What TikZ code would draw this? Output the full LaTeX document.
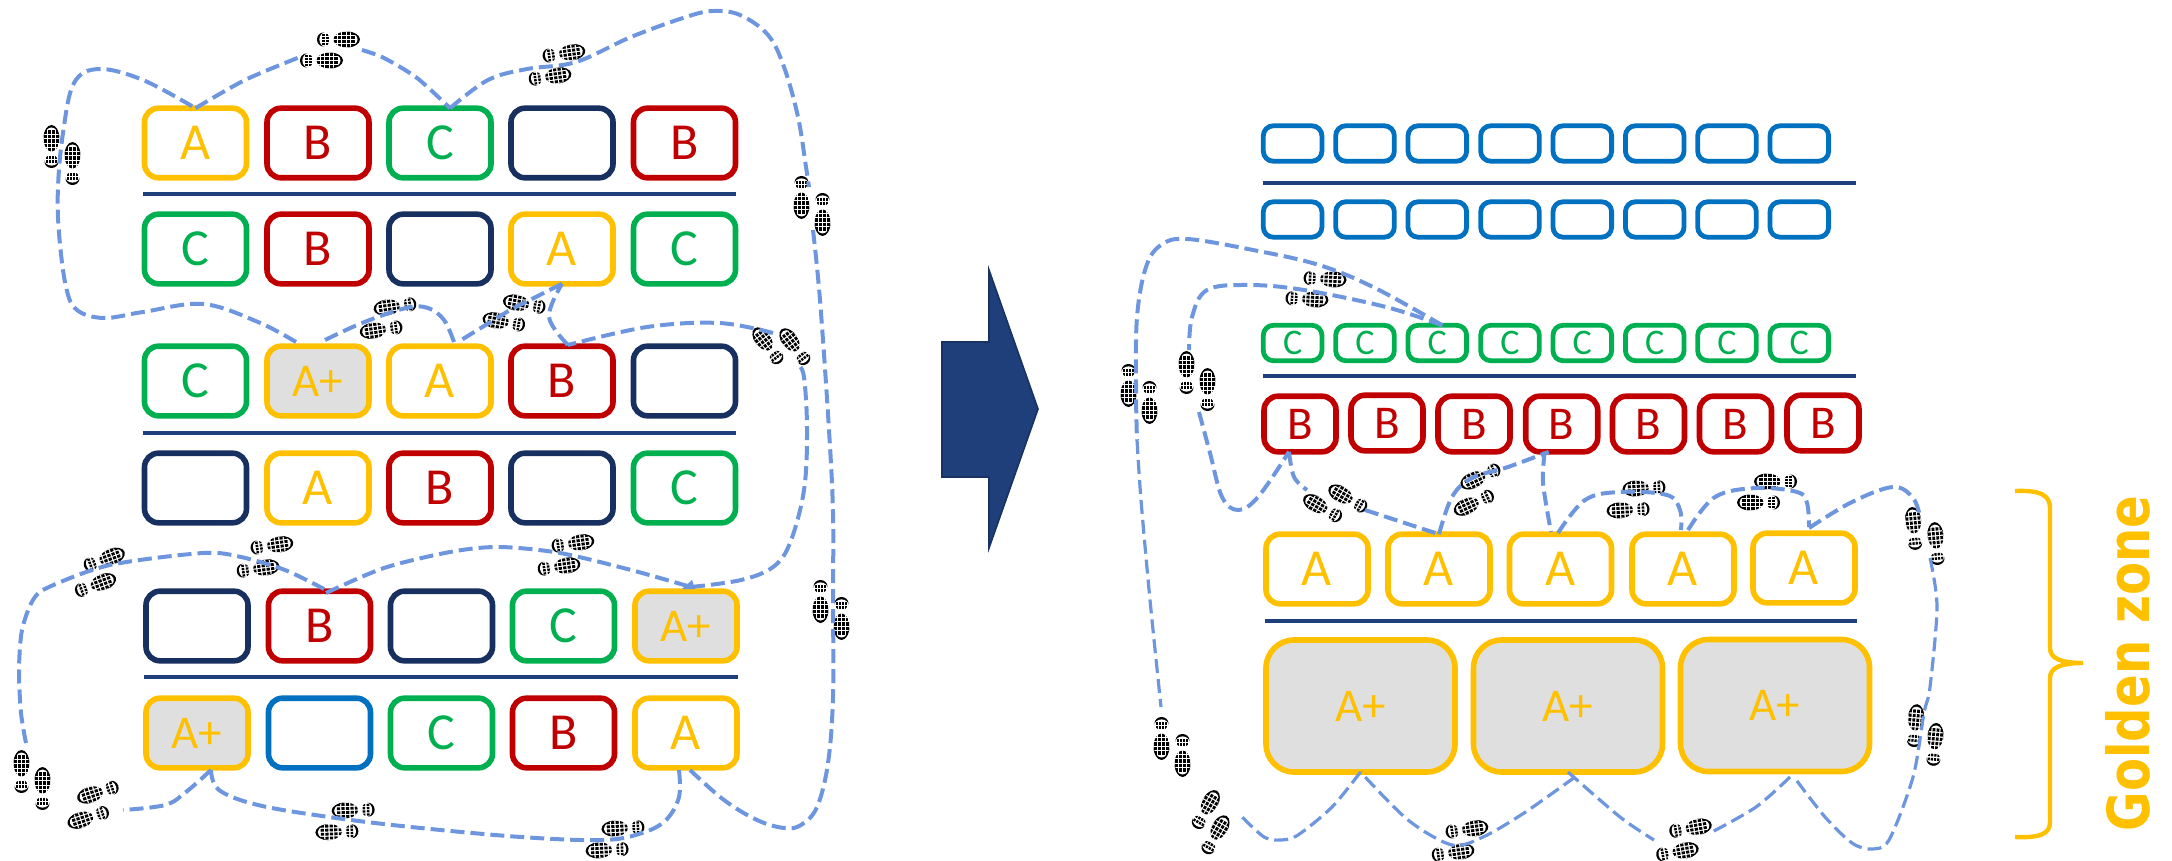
\documentclass[tikz,border=0pt]{standalone}
\usepackage{fontspec}
\setmainfont{Carlito}
\newfontfamily\goldfont{DejaVu Sans}
\usetikzlibrary{calc}
\definecolor{cy}{HTML}{FFC000}
\definecolor{cr}{HTML}{C00000}
\definecolor{cg}{HTML}{00B050}
\definecolor{cn}{HTML}{17305F}
\definecolor{cb}{HTML}{0070C0}
\definecolor{rule}{HTML}{1F3F7A}
\definecolor{walkc}{HTML}{6E96DE}
\definecolor{gr}{HTML}{DFDFDF}
\newcommand\oneshoe{%
  \fill[black] (8,0) ellipse [x radius=13.5,y radius=8];
  \fill[white] (5.5,0) ellipse [x radius=13.5,y radius=8.2];
  \begin{scope}
    \clip (8,0) ellipse [x radius=13,y radius=8];
    \foreach \sx in {-3.5,1,5.5,10,14.5}
      \foreach \sy in {-6,-2,2,6}
        \fill[black] (\sx-1.6,\sy-1.4) rectangle ++(3.2,2.8);
  \end{scope}
  \fill[black] (-15,0) ellipse [x radius=6.5,y radius=7];
  \fill[white] (-12.5,0) ellipse [x radius=6.6,y radius=7.4];
  \begin{scope}
    \clip (-15,0) ellipse [x radius=6.5,y radius=7];
    \foreach \sx in {-15,-10.8}
      \foreach \sy in {-4.8,-1.6,1.6,4.8}
        \fill[black] (\sx-1.3,\sy-1.1) rectangle ++(2.6,2.2);
  \end{scope}}
\newcommand\shoepair[3]{%
  \begin{scope}[shift={(#1,#2)},rotate=#3]
    \begin{scope}[shift={(8.5,-10.5)}]\oneshoe\end{scope}
    \begin{scope}[shift={(-8.5,10.5)}]\oneshoe\end{scope}
  \end{scope}}
\tikzset{
  slot/.style={draw,rounded corners=7pt,line width=2.8pt,outer sep=0pt,inner sep=0pt,fill=white},
  wide/.style={slot,minimum width=51pt,minimum height=34.8pt,font=\fontsize{26}{26}\selectfont},
  ya/.style={wide,draw=cy,text=cy},
  ra/.style={wide,draw=cr,text=cr},
  ga/.style={wide,draw=cg,text=cg},
  na/.style={wide,draw=cn},
  ba/.style={wide,draw=cb},
  ap/.style={wide,draw=cy,text=cy,fill=gr,font=\fontsize{23.5}{23.5}\selectfont},
  small/.style={slot,rounded corners=5pt,minimum width=29.3pt,minimum height=17.7pt,line width=2.4pt},
  sb/.style={small,draw=cb},
  sg/.style={small,draw=cg,text=cg,font=\fontsize{18}{18}\selectfont},
  mr/.style={slot,draw=cr,text=cr,minimum width=36pt,minimum height=27.8pt,font=\fontsize{23.5}{23.5}\selectfont},
  my/.style={slot,draw=cy,text=cy,minimum width=51pt,minimum height=34.8pt,font=\fontsize{26}{26}\selectfont},
  big/.style={slot,draw=cy,text=cy,fill=gr,rounded corners=14pt,minimum width=94.5pt,minimum height=66pt,font=\fontsize{23.5}{23.5}\selectfont},
  rulem/.style={draw=rule,line width=2pt},
  walk/.style={draw=walkc,line width=2pt,dash pattern=on 7pt off 3pt},
  thinwalk/.style={draw=walkc,line width=1.6pt,dash pattern=on 7pt off 3pt},
}
\begin{document}
\begin{tikzpicture}[x=.5pt,y=-.5pt]
\useasboundingbox (0,0) rectangle (2172,861);
% footprints
\shoepair{330}{50}{0}
\shoepair{62}{155}{90}
\shoepair{557}{65}{8}
\shoepair{812}{206}{-90}
\shoepair{388}{318}{188}
\shoepair{514}{313}{170}
\shoepair{781}{346}{127}
\shoepair{100}{572}{20}
\shoepair{265}{557}{8}
\shoepair{566}{555}{8}
\shoepair{831}{610}{-90}
\shoepair{32}{780}{90}
\shoepair{93}{805}{198}
\shoepair{345}{821}{182}
\shoepair{615}{839}{183}
\shoepair{1316}{289}{-3}
\shoepair{1139}{394}{-90}
\shoepair{1197}{381}{90}
\shoepair{1335}{503}{150}
\shoepair{1477}{490}{205}
\shoepair{1636}{499}{183}
\shoepair{1767}{492}{180}
\shoepair{1925}{536}{95}
\shoepair{1925}{735}{85}
\shoepair{1172}{747}{-90}
\shoepair{1211}{822}{60}
\shoepair{1460}{841}{8}
\shoepair{1684}{840}{10}
% left rules
\draw[rulem] (143,194) -- (736,194);
\draw[rulem] (143,433) -- (736,433);
\draw[rulem] (144,677) -- (738,677);
% left boxes
\node[ya] (a11) at (195.5,143) {A};
\node[ra] (a12) at (318,143) {B};
\node[ga] (a13) at (440,143) {C};
\node[na] (a14) at (562,143) {};
\node[ra] (a15) at (684.5,143) {B};
\node[ga] (a21) at (195.5,249) {C};
\node[ra] (a22) at (318,249) {B};
\node[na] (a23) at (440,249) {};
\node[ya] (a24) at (562,249) {A};
\node[ga] (a25) at (684.5,249) {C};
\node[ga] (a31) at (195.5,381) {C};
\node[ap] (a32) at (318,381) {A+};
\node[ya] (a33) at (440,381) {A};
\node[ra] (a34) at (562,381) {B};
\node[na] (a35) at (684.5,381) {};
\node[na] (a41) at (195.5,488) {};
\node[ya] (a42) at (318,488) {A};
\node[ra] (a43) at (440,488) {B};
\node[na] (a44) at (562,488) {};
\node[ga] (a45) at (684.5,488) {C};
\node[na] (a51) at (197,626) {};
\node[ra] (a52) at (319.5,626) {B};
\node[na] (a53) at (441.5,626) {};
\node[ga] (a54) at (563.5,626) {C};
\node[ap] (a55) at (686,626) {A+};
\node[ap] (a61) at (197,733) {A+};
\node[ba] (a62) at (319.5,733) {};
\node[ga] (a63) at (441.5,733) {C};
\node[ra] (a64) at (563.5,733) {B};
\node[ya] (a65) at (686,733) {A};
% arrow
\fill[rule,draw=rule!80!black,line width=.8pt] (942,342) -- (989,342) -- (989,270) -- (1038,409) -- (989,548) -- (989,477) -- (942,477) -- cycle;
% right rules
\draw[rulem] (1263,183) -- (1856,183);
\draw[rulem] (1263,376) -- (1856,376);
\draw[rulem] (1265,621) -- (1857,621);
% right boxes
\foreach \i/\cx in {1/1292.6,2/1365,3/1437.3,4/1510,5/1582.3,6/1654.7,7/1727,8/1799.3}{
  \node[sb] (t\i) at (\cx,143.5) {};
  \node[sb] (u\i) at (\cx,219.5) {};
  \node[sg] (g\i) at (\cx,343) {C};
}
\foreach \i/\cx/\cy in {1/1300/424,2/1387/423,3/1474/424,4/1561.7/424,5/1648.5/424,6/1735.5/424,7/1823/423}
  \node[mr] (r\i) at (\cx,\cy) {B};
\foreach \i/\cx/\cy in {1/1317/569,2/1439/569,3/1560.5/569,4/1683/569,5/1804/568}
  \node[my] (y\i) at (\cx,\cy) {A};
\node[big] (p1) at (1360.5,706) {A+};
\node[big] (p2) at (1568,706) {A+};
\node[big] (p3) at (1775,705.5) {A+};
% brace
\draw[cy,line width=2.2pt] (2015,491) .. controls (2040,490) and (2050,495) .. (2050,508) -- (2050,648) .. controls (2050,658) and (2060,663) .. (2083,663) .. controls (2060,663) and (2050,668) .. (2050,678) -- (2050,822) .. controls (2050,834) and (2040,838) .. (2015,837);
\node[rotate=90,xscale=.83,text=cy,font=\goldfont\bfseries\fontsize{29}{29}\selectfont,anchor=base] (gz) at (2149,663.5) {Golden zone};
% left walking paths
\draw[walk] plot[smooth,tension=.5] coordinates {(a11.north) (245,80) (300,57)};
\draw[walk] plot[smooth,tension=.5] coordinates {(362,50) (384,58) (417,78) ($(a13.north)+(10,0)$)};
\draw[walk] plot[smooth,tension=.6] coordinates {($(a13.north)+(10,0)$) (488,80) (527,69) (576,62) (631,37) (686,17) (713,11) (740,15) (768,35) (784,67) (798,117) (806,167) (809,187)};
\draw[walk] plot[smooth,tension=.6] coordinates {(813,230) (820,300) (829,430) (833,513) (833,597) (833,697) (828,763) (817,807) (801,825) (784,828) (757,820) (724,800) (690,770)};
\draw[walk] plot[smooth,tension=.6] coordinates {(679,770) (679,797) (666,820) (642,833) (603,840) (521,837) (411,827) (329,817) (258,805) (219,790) (211,770)};
\draw[walk] plot[smooth,tension=.6] coordinates {(211,770) (186,792) (165,805) (123,810)};
\draw[walk] plot[smooth,tension=.5] coordinates {(26,743) (21,713) (19,670) (22,630) (33,600) (49,587) (110,565) (203,553) (241,557) (285,570) (324,589)};
\draw[walk] plot[smooth,tension=.5] coordinates {(326,593) (384,568) (450,552) (499,547) (560,553) (631,570) (691,587)};
\fill[walkc] (682,589) -- (695,589) -- (692,580) -- cycle;
\draw[walk] plot[smooth,tension=.6] coordinates {(691,587) (741,580) (773,567) (790,543) (804,490) (807,430) (804,377) (798,365)};
\draw[walk] plot[smooth,tension=.6] coordinates {(773,333) (719,323) (647,327) (568,345)};
\draw[walk] plot[smooth,tension=.6] coordinates {(568,345) (549,317) (a24.south)};
\draw[walk] (a24.south) -- (510,310) -- (458,342);
\draw[walk] plot[smooth,tension=.6] coordinates {(454,342) (444,320) (428,308) (406,308) (362,323) (321,342)};
\draw[walk] plot[smooth,tension=.6] coordinates {(296,342) (258,322) (203,304) (143,312) (104,318) (77,310) (66,287) (59,233) (58,187) (63,133) (74,83) (99,69) (143,80) (a11.north)};
% right walking paths
\draw[walk] plot[smooth,tension=.6] coordinates {($(g3.north)+(5,0)$) (1375,288) (1319,265) (1253,250) (1187,239) (1161,245) (1146,267) (1137,317) (1136,390) (1137,440)};
\draw[walk] plot[smooth,tension=.6] coordinates {($(g3.north)+(5,0)$) (1386,307) (1304,290) (1248,285) (1207,290) (1192,317) (1189,350)};
\draw[thinwalk] plot[smooth,tension=.5] coordinates {(1137,440) (1141,500) (1150,600) (1161,707)};
\draw[walk] plot[smooth,tension=.6] coordinates {(1199,412) (1210,453) (1222,497) (1238,510) (1258,497) ($(r1.south)+(-11,0)$)};
\draw[walk] plot[smooth,tension=.6] coordinates {($(r1.south)+(-11,0)$) (1294,477) (1307,490)};
\draw[walk] (1365,510) -- (y2.north);
\draw[walk] plot[smooth,tension=.6] coordinates {(y2.north) (1452,497) (1472,478) (1508,467) ($(r4.south)+(-13,0)$)};
\draw[walk] plot[smooth,tension=.5] coordinates {($(r4.south)+(-17,0)$) (1543,483) (1551,532)};
\draw[walk] plot[smooth,tension=.6] coordinates {(1558,533) (1585,500) (1620,492) (1667,495) (1680,510) (1681,530)};
\draw[walk] plot[smooth,tension=.6] coordinates {(1688,530) (1715,497) (1756,488) (1797,492) (1807,503) (1809,527)};
\draw[walk] plot[smooth,tension=.6] coordinates {(1809,528) (1852,502) (1893,487) (1913,498) (1920,517)};
\draw[thinwalk] plot[smooth,tension=.5] coordinates {(1930,558) (1937,607) (1930,687) (1924,713) (1913,777) (1889,840) (1871,849) (1852,843) (1825,817) (1794,777)};
\draw[thinwalk] plot[smooth,tension=.5] coordinates {(1790,777) (1756,807) (1712,832)};
\draw[thinwalk] plot[smooth,tension=.5] coordinates {(p2.south) (1620,817) (1654,840)};
\draw[thinwalk] plot[smooth,tension=.5] coordinates {(1575,777) (1524,813) (1483,837) (1452,845) (1408,820) (p1.south)};
\draw[thinwalk] plot[smooth,tension=.5] coordinates {(p1.south) (1332,807) (1298,835) (1281,840) (1264,837) (1240,815)};
\end{tikzpicture}
\end{document}
